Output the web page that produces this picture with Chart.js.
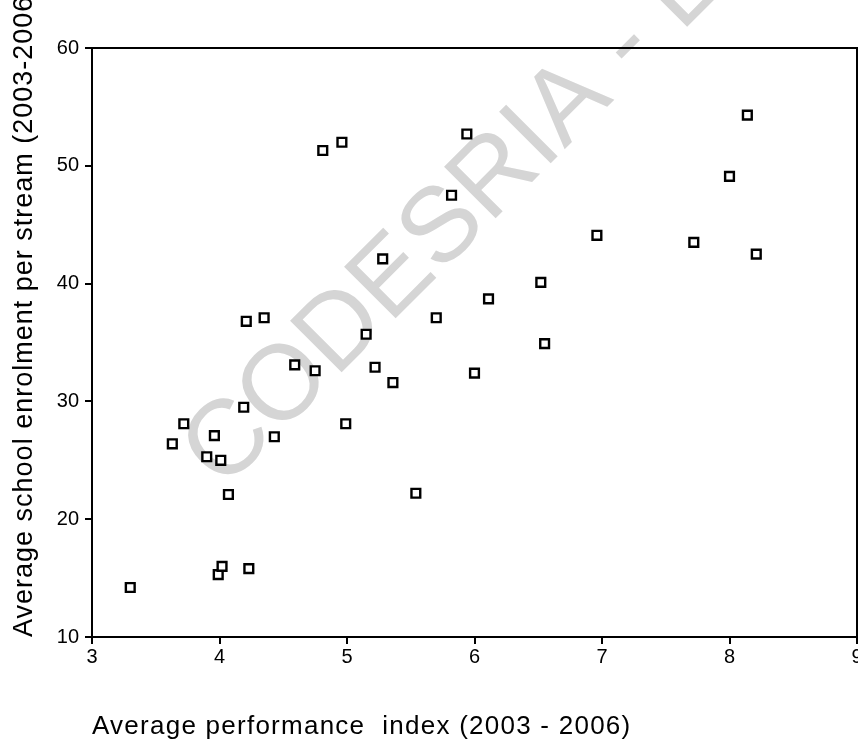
<!DOCTYPE html>
<html>
<head>
<meta charset="utf-8">
<script src="https://cdn.jsdelivr.net/npm/chart.js@4.4.1/dist/chart.umd.min.js"></script>
<style>
  html, body { margin: 0; padding: 0; background: #fff; overflow: hidden; }
  #wrap { width: 880px; height: 743px; }
</style>
</head>
<body>
<div id="wrap"><canvas id="scatter" width="880" height="743"></canvas></div>
<script>
// values
const performanceIndex = [3.30, 3.63, 3.72, 3.96, 3.90, 4.01, 4.07, 3.99, 4.02, 4.23,
  4.19, 4.21, 4.35, 4.43, 4.59, 4.75, 4.81, 4.96, 4.99, 5.15,
  5.22, 5.28, 5.36, 5.54, 5.70, 5.82, 5.94, 6.00, 6.11, 6.52,
  6.55, 6.96, 7.72, 8.00, 8.14, 8.21];
const enrolment = [14.2, 26.4, 28.1, 27.1, 25.3, 25.0, 22.1, 15.3, 16.0, 15.8,
  29.5, 36.8, 37.1, 27.0, 33.1, 32.6, 51.3, 52.0, 28.1, 35.7,
  32.9, 42.1, 31.6, 22.2, 37.1, 47.5, 52.7, 32.4, 38.7, 40.1,
  34.9, 44.1, 43.5, 49.1, 54.3, 42.5];
const xTicks = [3, 4, 5, 6, 7, 8, 9];
const yTicks = [10, 20, 30, 40, 50, 60];
const xTitle = 'Average performance  index (2003 - 2006)';
const yTitle = 'Average school enrolment per stream (2003-2006)';
const watermark = 'CODESRIA - LIBRARY';

const FONT = '"Liberation Sans", Arial, sans-serif';

const decor = {
  id: 'decor',
  beforeDatasetsDraw(chart){
    const {ctx, chartArea: a} = chart;
    // watermark behind the points
    ctx.save();
    ctx.translate(223, 491);
    ctx.rotate(-Math.PI / 4);
    ctx.font = '106px ' + FONT;
    ctx.fillStyle = '#d5d5d5';
    ctx.textBaseline = 'alphabetic';
    ctx.fillText(watermark, 0, 0);
    ctx.restore();
    // box round the plot
    ctx.save();
    ctx.strokeStyle = '#000';
    ctx.lineWidth = 2;
    ctx.strokeRect(a.left, a.top, a.right - a.left, a.bottom - a.top);
    ctx.restore();
  },
  afterDraw(chart){
    const {ctx, chartArea: a} = chart;
    ctx.save();
    ctx.fillStyle = '#000';
    ctx.textBaseline = 'alphabetic';
    ctx.textAlign = 'left';
    ctx.letterSpacing = '1.25px';
    ctx.font = '26px ' + FONT;
    ctx.fillText(xTitle, a.left, 734);
    ctx.translate(32, a.bottom);
    ctx.rotate(-Math.PI / 2);
    ctx.letterSpacing = '1px';
    ctx.font = '27px ' + FONT;
    ctx.fillText(yTitle, 0, 0);
    ctx.restore();
  }
};

new Chart(document.getElementById('scatter'), {
  type: 'scatter',
  data: {
    datasets: [{
      data: performanceIndex.map((x, i) => ({x, y: enrolment[i]})),
      pointStyle: 'rect',
      pointRadius: 6.2,
      pointHoverRadius: 6.2,
      borderWidth: 2.4,
      borderColor: '#000',
      backgroundColor: '#fff'
    }]
  },
  options: {
    responsive: false,
    animation: false,
    devicePixelRatio: 1,
    layout: { padding: { top: 48, right: 23, bottom: 0, left: 0 } },
    plugins: { legend: { display: false }, tooltip: { enabled: false } },
    scales: {
      x: {
        type: 'linear',
        min: xTicks[0],
        max: xTicks[xTicks.length - 1],
        afterBuildTicks(scale){ scale.ticks = xTicks.map(v => ({value: v})); },
        afterFit(scale){ scale.height = 106; },
        grid: { drawOnChartArea: false, drawTicks: true, tickLength: 7, color: '#000', lineWidth: 2 },
        border: { display: true, color: '#000', width: 2 },
        ticks: { color: '#000', padding: 1, font: { family: FONT, size: 20 } }
      },
      y: {
        type: 'linear',
        min: yTicks[0],
        max: yTicks[yTicks.length - 1],
        afterBuildTicks(scale){ scale.ticks = yTicks.map(v => ({value: v})); },
        afterFit(scale){ scale.width = 92; },
        grid: { drawOnChartArea: false, drawTicks: true, tickLength: 7, color: '#000', lineWidth: 2 },
        border: { display: true, color: '#000', width: 2 },
        ticks: { color: '#000', padding: 6, font: { family: FONT, size: 20 } }
      }
    }
  },
  plugins: [decor]
});
</script>
</body>
</html>
